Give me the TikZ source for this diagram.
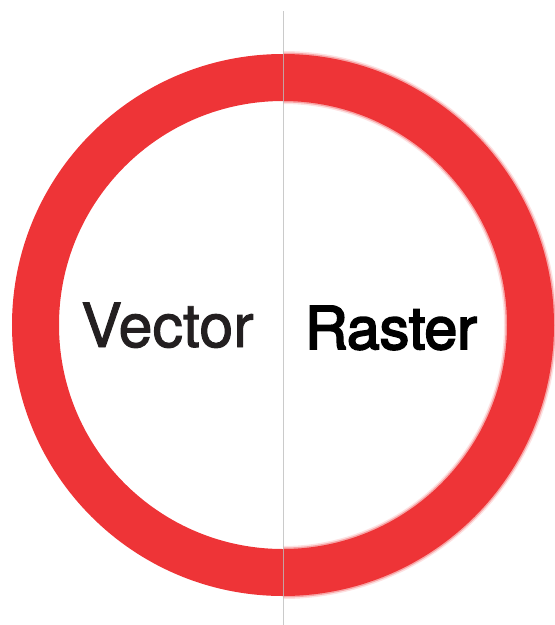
\documentclass[tikz,border=0pt]{standalone}
\usepackage{fontspec}
\setmainfont{TeX Gyre Heros}
\newfontface\vecface{TeX Gyre Heros}[FakeBold=1.6]
\newfontface\rasface{TeX Gyre Heros}[FakeBold=3.2]
\definecolor{ringred}{HTML}{EE3437}
\definecolor{inkdark}{HTML}{231F20}
\definecolor{divider}{HTML}{BDBDBD}
\begin{document}
\begin{tikzpicture}[x=1pt,y=-1pt,
  ring/.style={draw=ringred,line width=47pt},
  label/.style={inner sep=0pt,anchor=base west},
]
\useasboundingbox (0,0) rectangle (555,625);
\coordinate (c) at (283,325);

% sharp left half
\begin{scope}
  \clip (0,0) rectangle (283,625);
  \draw[ring] (c) circle[radius=247.5];
\end{scope}

% soft right half: layered strokes give a blurred edge
\begin{scope}
  \clip (283,0) rectangle (555,625);
  \draw[ring,line width=53pt,draw opacity=0.15] (c) circle[radius=247.5];
  \draw[ring,line width=50pt,draw opacity=0.35] (c) circle[radius=247.5];
  \draw[ring,line width=47pt] (c) circle[radius=247.5];
\end{scope}

% labels
\node[label,text=inkdark,font=\vecface\fontsize{61}{61}\selectfont] (vec) at (81,347) {Vector};
\node[label,text=black,font=\rasface\fontsize{59}{59}\selectfont] (ras) at (305,349) {Raster};

% divider
\coordinate (top) at (283,11);
\coordinate (bot) at (283,625);
\draw[divider,line width=1pt,draw opacity=0.8] (top) -- (bot);
\end{tikzpicture}
\end{document}
